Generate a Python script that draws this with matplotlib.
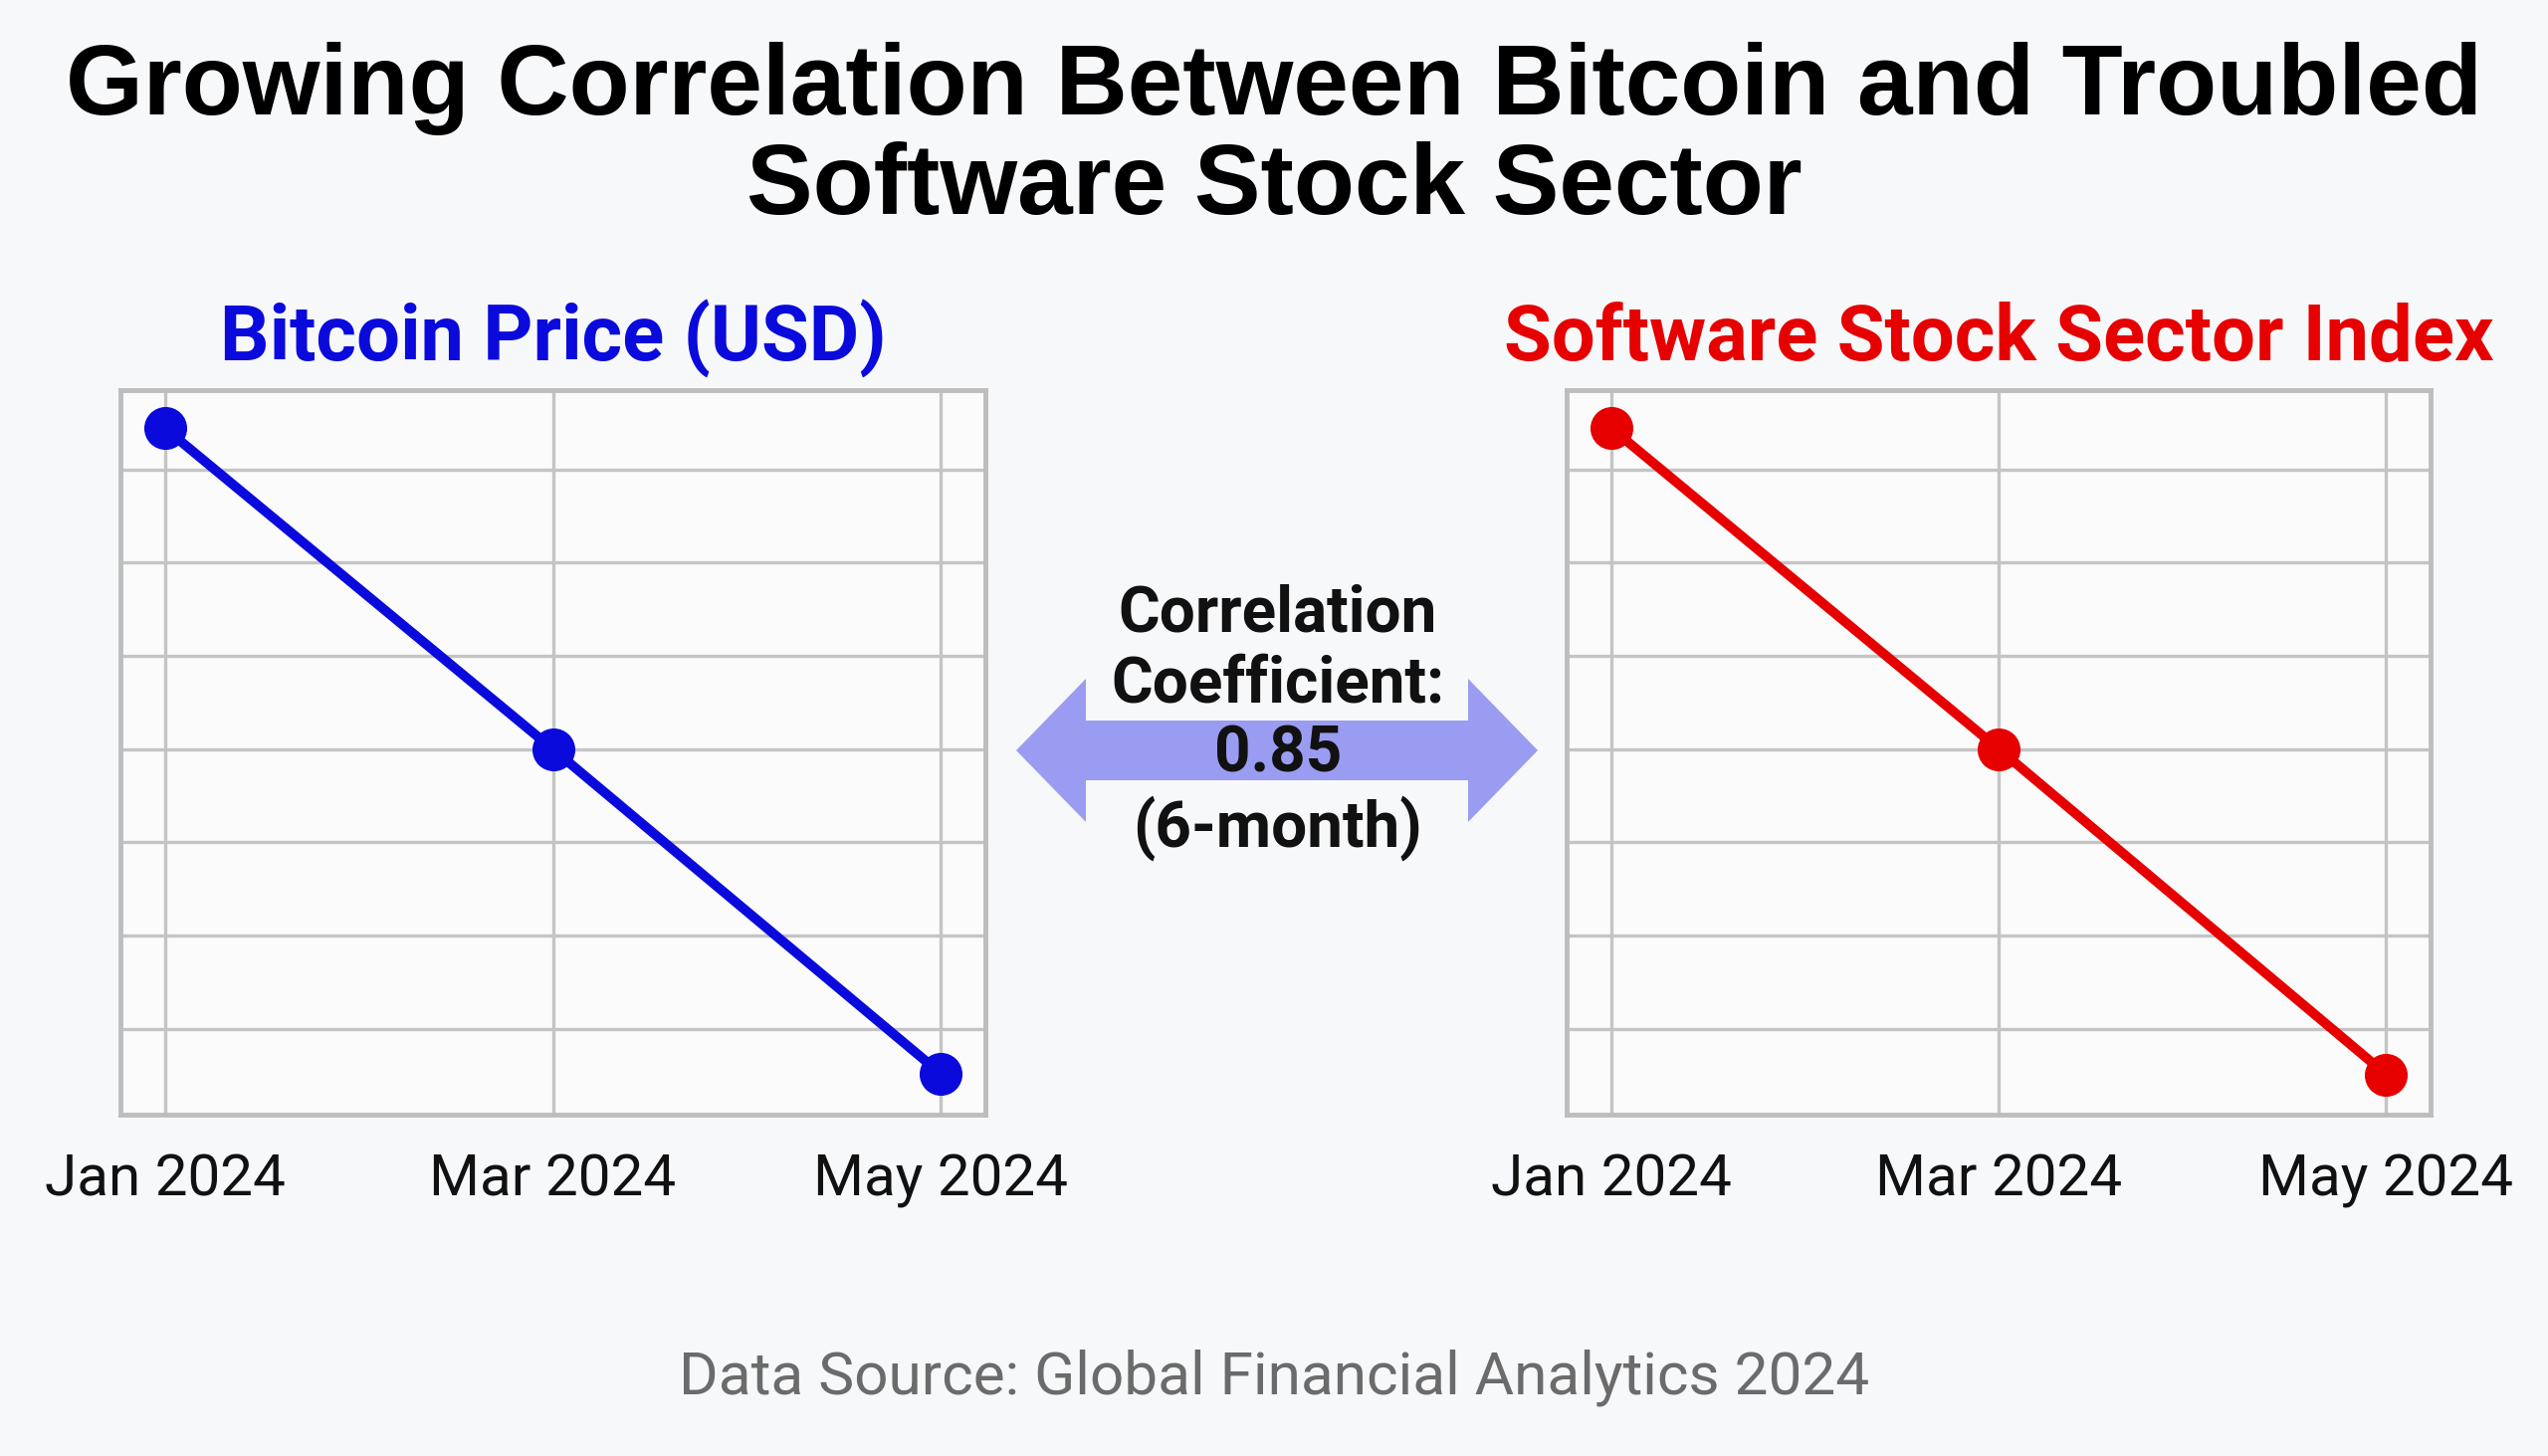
import matplotlib
matplotlib.use("Agg")
import matplotlib.pyplot as plt
from matplotlib.patches import Polygon

# data (y axis has no labels, values read against the gridlines)
months = ["Jan 2024", "Mar 2024", "May 2024"]
month_pos = [0, 2, 4]
btc_price = [66100, 57500, 48800]
software_index = [364.4, 330.0, 295.1]
correlation = 0.85

BLUE = "#0a0adc"
RED = "#e60000"
GRID = "#c4c4c4"
BG = "#f7f8fa"

fig = plt.figure(figsize=(25.6, 14.63), dpi=100)
fig.patch.set_facecolor(BG)


def panel(rect, values, step, base, color, title):
    ax = fig.add_axes(rect)
    ax.set_facecolor("#fbfbfc")
    ax.plot(month_pos, values, color=color, lw=7, marker="o", ms=30,
            markerfacecolor=color, markeredgecolor=color, zorder=3,
            solid_capstyle="round")
    ax.set_xlim(-0.23, 4.23)
    ax.set_ylim(base + (0.08 - 1) * step, base + (7.85 - 1) * step)
    ax.set_xticks(month_pos)
    ax.set_xticklabels(months, fontsize=42, family="Roboto", color="#111111")
    ax.set_yticks([base + i * step for i in range(7)])
    ax.set_yticklabels([])
    ax.tick_params(length=0, pad=28)
    ax.grid(True, color=GRID, lw=2.4)
    ax.set_axisbelow(True)
    for s in ax.spines.values():
        s.set_color("#bdbdbd")
        s.set_linewidth(3.5)
    ax.set_title(title, color=color, fontsize=56, fontweight="bold",
                 family="Roboto", pad=22)
    return ax


panel([0.0473, 0.2345, 0.3394, 0.4975], btc_price, 2500, 50000, BLUE,
      "Bitcoin Price (USD)")
panel([0.615, 0.2345, 0.339, 0.4975], software_index, 10, 300, RED,
      "Software Stock Sector Index")

# overlay in pixel coordinates for the double arrow
ov = fig.add_axes([0, 0, 1, 1], zorder=-1)
ov.set_xlim(0, 2560)
ov.set_ylim(1463, 0)
ov.axis("off")
cy = 754
x0, x1 = 1021, 1545
hl, sh, hh = 70, 30, 72
arrow = Polygon([[x0, cy], [x0 + hl, cy - hh], [x0 + hl, cy - sh],
                 [x1 - hl, cy - sh], [x1 - hl, cy - hh], [x1, cy],
                 [x1 - hl, cy + hh], [x1 - hl, cy + sh], [x0 + hl, cy + sh],
                 [x0 + hl, cy + hh]], closed=True, facecolor="#9a9cf2",
                edgecolor="none")
ov.add_patch(arrow)

fig.text(0.5015, 0.504,
         "Correlation\nCoefficient:\n%.2f\n(6-month)" % correlation,
         ha="center", va="center", fontsize=46, fontweight="bold",
         family="Roboto", color="#111111", linespacing=1.2)

fig.text(0.5, 0.905,
         "Growing Correlation Between Bitcoin and Troubled\nSoftware Stock Sector",
         ha="center", va="center", fontsize=72, fontweight="bold",
         family="Liberation Sans", color="black", linespacing=1.08)

fig.text(0.5, 0.054, "Data Source: Global Financial Analytics 2024",
         ha="center", va="center", fontsize=43.5, family="Roboto",
         color="#6b6b6b")

fig.savefig("out.png", dpi=100, facecolor=BG)
